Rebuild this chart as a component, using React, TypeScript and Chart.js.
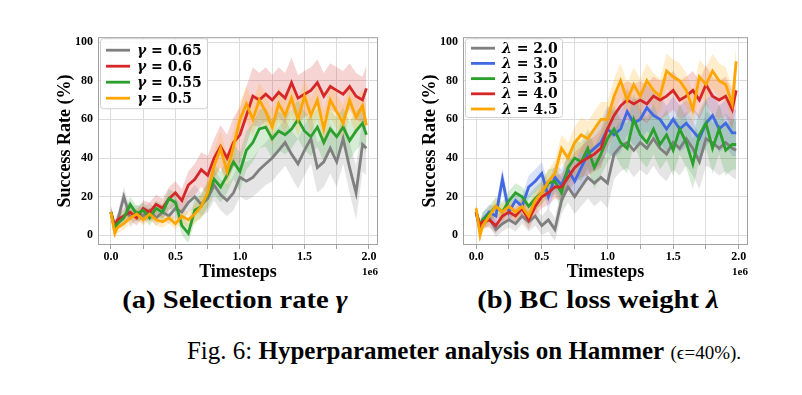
import React, { useEffect, useRef } from "react";
import { Chart, registerables } from "chart.js";
Chart.register(...registerables);

// ---- data ----
const TIMESTEPS = [0, 0.03, 0.05, 0.1, 0.15, 0.2, 0.25, 0.3, 0.35, 0.4, 0.45, 0.5, 0.55, 0.6, 0.65, 0.7, 0.75, 0.8, 0.85, 0.9, 0.95, 1.0, 1.05, 1.1, 1.15, 1.2, 1.25, 1.3, 1.35, 1.4, 1.45, 1.5, 1.55, 1.6, 1.65, 1.7, 1.75, 1.8, 1.85, 1.9, 1.95, 1.98];
const X_TICKS = [0, 0.25, 0.5, 0.75, 1.0, 1.25, 1.5, 1.75, 2.0];
const Y_TICKS = [0, 20, 40, 60, 80, 100];

// (a) selection rate gamma
const GAMMA_LABELS = ["0.65", "0.6", "0.55", "0.5"];
const G065 = [12, 3, 7, 20, 9, 12, 10, 13, 9, 12, 10, 14, 12, 17, 20, 16, 19, 26, 21, 18, 22, 30, 28, 30, 34, 37, 40, 44, 48, 42, 37, 44, 50, 35, 38, 45, 38, 50, 35, 22, 47, 45];
const G060 = [12, 5, 8, 10, 12, 9, 14, 12, 16, 14, 19, 22, 18, 26, 29, 34, 31, 40, 46, 40, 48, 52, 62, 72, 70, 73, 70, 74, 71, 79, 71, 73, 75, 79, 72, 77, 75, 73, 77, 72, 70, 76];
const G055 = [12, 3, 6, 9, 16, 11, 13, 9, 14, 12, 19, 17, 5, 1, 13, 15, 21, 29, 25, 31, 38, 33, 44, 48, 55, 56, 50, 54, 52, 55, 60, 54, 51, 56, 48, 55, 51, 56, 49, 54, 58, 52];
const G050 = [12, 1, 4, 6, 9, 11, 8, 11, 8, 7, 9, 6, 10, 8, 11, 15, 22, 36, 45, 33, 46, 60, 68, 60, 70, 64, 56, 68, 62, 71, 60, 72, 62, 70, 55, 70, 64, 58, 70, 61, 67, 57];
const G065_SD = [3, 3, 4, 5, 5, 4, 4, 4, 4, 4, 4, 5, 5, 5, 6, 6, 7, 8, 8, 8, 9, 10, 10, 10, 11, 11, 12, 12, 12, 12, 13, 13, 13, 13, 13, 13, 13, 13, 13, 14, 14, 14];
const G060_SD = [3, 3, 3, 4, 4, 4, 4, 5, 5, 5, 6, 6, 6, 7, 8, 9, 10, 10, 11, 12, 13, 14, 15, 15, 14, 14, 13, 13, 13, 13, 12, 12, 12, 12, 12, 12, 12, 12, 12, 12, 12, 12];
const G055_SD = [3, 3, 3, 4, 4, 4, 4, 4, 4, 4, 5, 5, 5, 5, 6, 6, 7, 8, 8, 9, 9, 10, 10, 10, 10, 10, 10, 10, 10, 10, 10, 10, 10, 10, 10, 10, 10, 10, 10, 10, 10, 10];
const G050_SD = [3, 3, 3, 3, 3, 3, 3, 3, 3, 3, 3, 3, 4, 4, 5, 6, 7, 8, 9, 9, 9, 9, 9, 9, 9, 9, 9, 9, 9, 9, 9, 9, 9, 9, 9, 9, 9, 9, 9, 9, 9, 9];

// (b) BC loss weight lambda
const LAMBDA_LABELS = ["2.0", "3.0", "3.5", "4.0", "4.5"];
const L20 = [12, 2, 6, 9, 3, 6, 8, 6, 10, 7, 10, 5, 8, 3, 18, 25, 20, 25, 30, 27, 30, 27, 42, 46, 48, 44, 48, 45, 50, 45, 42, 48, 45, 50, 45, 38, 50, 48, 45, 48, 45, 44];
const L30 = [12, 3, 8, 12, 10, 29, 12, 18, 15, 25, 28, 32, 20, 30, 26, 34, 28, 35, 42, 45, 48, 55, 52, 55, 64, 58, 60, 66, 62, 60, 55, 60, 55, 58, 54, 50, 58, 62, 55, 58, 53, 53];
const L35 = [12, 5, 8, 11, 15, 12, 18, 22, 20, 15, 19, 22, 27, 28, 22, 35, 40, 38, 45, 35, 42, 50, 55, 48, 45, 60, 52, 48, 55, 47, 52, 44, 55, 48, 37, 52, 58, 45, 55, 44, 47, 47];
const L40 = [12, 5, 7, 8, 5, 10, 12, 10, 14, 8, 15, 20, 22, 25, 25, 30, 35, 38, 40, 42, 45, 55, 62, 67, 70, 68, 70, 68, 72, 70, 72, 75, 70, 72, 75, 70, 78, 72, 70, 72, 65, 75];
const L45 = [14, 0, 5, 10, 15, 12, 15, 12, 15, 10, 18, 22, 28, 32, 45, 40, 48, 52, 50, 55, 60, 60, 72, 80, 70, 78, 72, 80, 75, 72, 85, 82, 80, 75, 65, 82, 78, 85, 80, 78, 68, 90];
const L20_SD = [3, 3, 3, 4, 4, 4, 4, 4, 4, 5, 5, 5, 6, 6, 7, 8, 9, 10, 11, 12, 12, 13, 13, 13, 13, 14, 14, 14, 14, 14, 14, 14, 14, 14, 14, 14, 14, 14, 14, 15, 15, 15];
const L30_SD = [3, 3, 4, 4, 5, 6, 5, 5, 5, 6, 6, 6, 7, 7, 8, 8, 9, 10, 10, 11, 11, 12, 12, 12, 12, 12, 12, 12, 12, 12, 12, 12, 12, 12, 12, 12, 12, 12, 12, 12, 12, 12];
const L35_SD = [3, 3, 4, 4, 5, 5, 5, 5, 5, 6, 6, 6, 7, 7, 8, 8, 9, 10, 10, 11, 11, 12, 12, 12, 13, 13, 13, 13, 13, 13, 13, 13, 13, 13, 13, 13, 13, 13, 13, 13, 13, 13];
const L40_SD = [3, 3, 3, 4, 4, 4, 4, 4, 5, 5, 5, 6, 6, 6, 7, 7, 8, 8, 9, 9, 10, 10, 10, 10, 10, 10, 10, 10, 10, 10, 10, 10, 10, 10, 10, 10, 10, 10, 10, 10, 10, 10];
const L45_SD = [3, 3, 3, 4, 4, 4, 4, 4, 5, 5, 5, 6, 6, 7, 7, 8, 8, 9, 9, 9, 9, 9, 9, 9, 9, 9, 9, 9, 9, 9, 9, 9, 9, 9, 9, 9, 9, 9, 9, 9, 9, 9];

const GRAY = "#7f7f7f";
const RED = "#d62728";
const GREEN = "#2ca02c";
const ORANGE = "#ffa500";
const BLUE = "#4169e1";

function hexA(hex: string, a: number) {
  const n = parseInt(hex.slice(1), 16);
  return `rgba(${(n >> 16) & 255},${(n >> 8) & 255},${n & 255},${a})`;
}

type Series = { label: string; mean: number[]; sd: number[]; color: string };

const TICK_FONT = { family: "'Liberation Serif', serif", weight: "bold" as const, size: 12 };

function buildConfig(series: Series[], symbol: string, legendRowGap: number, legendTopOffset: number, legendW: number): any {
  const datasets: any[] = [];
  const n = series.length;
  series.forEach((s, i) => {
    datasets.push({
      label: "_upper",
      data: TIMESTEPS.map((x, k) => ({ x, y: s.mean[k] + s.sd[k] })),
      borderWidth: 0,
      pointRadius: 0,
      fill: false,
      order: 100 + (n - i) * 2 + 1,
    });
    datasets.push({
      label: "_lower",
      data: TIMESTEPS.map((x, k) => ({ x, y: s.mean[k] - s.sd[k] })),
      borderWidth: 0,
      pointRadius: 0,
      backgroundColor: hexA(s.color, 0.2),
      fill: "-1",
      order: 100 + (n - i) * 2,
    });
  });
  series.forEach((s, i) => {
    datasets.push({
      label: s.label,
      data: TIMESTEPS.map((x, k) => ({ x, y: s.mean[k] })),
      borderColor: s.color,
      borderWidth: 2.8,
      pointRadius: 0,
      fill: false,
      tension: 0,
      order: n - i,
    });
  });

  const framePlugin = {
    id: "frame",
    beforeDatasetsDraw(chart: any) {
      const { ctx, chartArea: a } = chart;
      ctx.save();
      ctx.strokeStyle = "#a0a0a0";
      ctx.lineWidth = 1;
      ctx.strokeRect(a.left + 0.5, a.top + 0.5, a.right - a.left - 1, a.bottom - a.top - 1);
      ctx.restore();
    },
    afterDraw(chart: any) {
      const { ctx, chartArea: a } = chart;
      ctx.save();
      ctx.font = "bold 11px 'Liberation Serif', serif";
      ctx.fillStyle = "#000";
      ctx.textAlign = "right";
      ctx.textBaseline = "middle";
      ctx.fillText("1e6", a.right, 272 - 25);
      ctx.restore();
    },
  };

  const legendPlugin = {
    id: "customLegend",
    afterDatasetsDraw(chart: any) {
      const { ctx, chartArea: a } = chart;
      const x0 = a.left + 2;
      const y0 = a.top + 1;
      const h = legendTopOffset * 2 + legendRowGap * (n - 1) - 2;
      ctx.save();
      ctx.fillStyle = "rgba(255,255,255,0.85)";
      ctx.strokeStyle = "#d0d0d0";
      ctx.lineWidth = 1;
      ctx.beginPath();
      (ctx as any).roundRect(x0 + 0.5, y0 + 0.5, legendW, h, 3);
      ctx.fill();
      ctx.stroke();
      series.forEach((s, i) => {
        const yy = y0 + legendTopOffset + i * legendRowGap;
        ctx.strokeStyle = s.color;
        ctx.lineWidth = 2.8;
        ctx.beginPath();
        ctx.moveTo(x0 + 6, yy);
        ctx.lineTo(x0 + 30, yy);
        ctx.stroke();
        ctx.fillStyle = "#000";
        ctx.textBaseline = "middle";
        ctx.textAlign = "left";
        ctx.font = "italic bold 14px 'DejaVu Serif', serif";
        ctx.fillText(symbol, x0 + 37, yy + 1);
        const w = ctx.measureText(symbol).width;
        ctx.font = "bold 14px 'DejaVu Serif', serif";
        ctx.fillText(" = " + s.label, x0 + 37 + w, yy + 1);
      });
      ctx.restore();
    },
  };

  return {
    type: "line",
    data: { datasets },
    plugins: [framePlugin, legendPlugin],
    options: {
      animation: false,
      responsive: false,
      devicePixelRatio: 1,
      layout: { padding: { top: 8, right: 7, left: 3, bottom: 0 } },
      plugins: { legend: { display: false }, tooltip: { enabled: false } },
      scales: {
        x: {
          type: "linear",
          min: -0.1,
          max: 2.07,
          afterBuildTicks: (scale: any) => {
            scale.ticks = X_TICKS.map((v) => ({ value: v }));
          },
          afterFit: (scale: any) => {
            scale.height = 40;
          },
          ticks: {
            font: TICK_FONT,
            color: "#000",
            padding: 1,
            maxRotation: 0,
            autoSkip: false,
            callback: (v: number) => (Math.abs((v * 2) % 1) < 1e-9 ? v.toFixed(1) : ""),
          },
          grid: { color: "#dcdcdc", lineWidth: 1, tickLength: 4, tickColor: "#a0a0a0" },
          border: { display: false },
          title: {
            display: true,
            text: "Timesteps",
            font: { family: "'Liberation Serif', serif", weight: "bold", size: 18 },
            color: "#000",
            padding: { top: 0, bottom: 2 },
          },
        },
        y: {
          type: "linear",
          min: -5,
          max: 102.5,
          afterBuildTicks: (scale: any) => {
            scale.ticks = Y_TICKS.map((v) => ({ value: v }));
          },
          afterFit: (scale: any) => {
            scale.width = 45;
          },
          ticks: { font: TICK_FONT, color: "#000", padding: 5 },
          grid: { color: "#dcdcdc", lineWidth: 1, drawTicks: false },
          border: { display: false },
          title: {
            display: true,
            text: "Success Rate (%)",
            font: { family: "'Liberation Serif', serif", weight: "bold", size: 18 },
            color: "#000",
            padding: { top: 2, bottom: 0 },
          },
        },
      },
    },
  };
}

function ChartBox(props: { series: Series[]; symbol: string; gap: number; top: number; legendW: number; left: number; width: number }) {
  const ref = useRef<HTMLCanvasElement | null>(null);
  useEffect(() => {
    if (!ref.current) return;
    const chart = new Chart(ref.current, buildConfig(props.series, props.symbol, props.gap, props.top, props.legendW));
    return () => chart.destroy();
  }, []);
  return (
    <canvas
      ref={ref}
      width={props.width}
      height={260}
      style={{ position: "absolute", left: props.left, top: 25, width: props.width, height: 260 }}
    />
  );
}

const GAMMA_SERIES: Series[] = [
  { label: GAMMA_LABELS[0], mean: G065, sd: G065_SD, color: GRAY },
  { label: GAMMA_LABELS[1], mean: G060, sd: G060_SD, color: RED },
  { label: GAMMA_LABELS[2], mean: G055, sd: G055_SD, color: GREEN },
  { label: GAMMA_LABELS[3], mean: G050, sd: G050_SD, color: ORANGE },
];
const LAMBDA_SERIES: Series[] = [
  { label: LAMBDA_LABELS[0], mean: L20, sd: L20_SD, color: GRAY },
  { label: LAMBDA_LABELS[1], mean: L30, sd: L30_SD, color: BLUE },
  { label: LAMBDA_LABELS[2], mean: L35, sd: L35_SD, color: GREEN },
  { label: LAMBDA_LABELS[3], mean: L40, sd: L40_SD, color: RED },
  { label: LAMBDA_LABELS[4], mean: L45, sd: L45_SD, color: ORANGE },
];

const capStyle: React.CSSProperties = {
  position: "absolute",
  fontFamily: "'Liberation Serif', 'Times New Roman', serif",
  whiteSpace: "nowrap",
  color: "#000",
  lineHeight: 1,
};

export default function App() {
  return (
    <div style={{ position: "absolute", left: 0, top: 0, width: 802, height: 395, background: "#fff", overflow: "hidden" }}>
      <ChartBox series={GAMMA_SERIES} symbol="γ" gap={16} top={12} legendW={107} left={50} width={335} />
      <ChartBox series={LAMBDA_SERIES} symbol="λ" gap={15.2} top={10} legendW={97} left={415} width={340} />
      <div style={{ ...capStyle, left: 235, top: 300, fontSize: 26, fontWeight: "bold", transform: "translate(-50%,-50%) scaleX(1.1)" }}>
        (a) Selection rate <i>γ</i>
      </div>
      <div style={{ ...capStyle, left: 598, top: 300, fontSize: 26, fontWeight: "bold", transform: "translate(-50%,-50%) scaleX(1.1)" }}>
        (b) BC loss weight <i>λ</i>
      </div>
      <div style={{ ...capStyle, left: 464, top: 350, fontSize: 25, transform: "translate(-50%,-50%)" }}>
        Fig. 6: <b>Hyperparameter analysis on Hammer</b> <span style={{ fontSize: 19 }}>(ϵ=40%).</span>
      </div>
    </div>
  );
}
